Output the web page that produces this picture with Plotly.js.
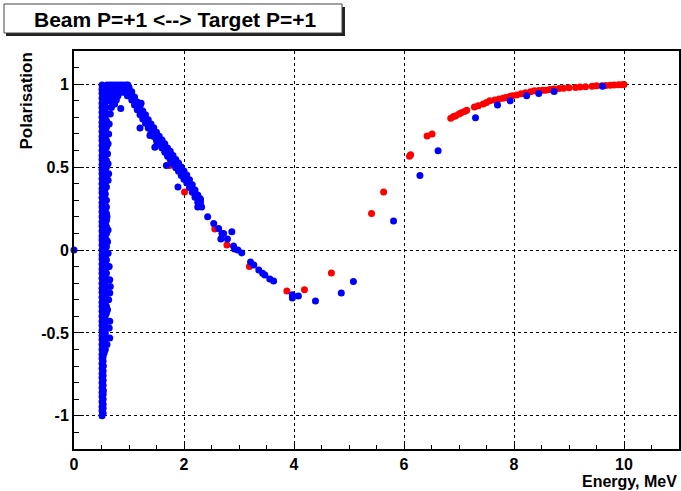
<!DOCTYPE html>
<html><head><meta charset="utf-8">
<script src="https://cdn.plot.ly/plotly-3.0.1.min.js"></script>
<style>html,body{margin:0;padding:0;background:#fff;} #chart{width:681px;height:491px;}</style>
</head><body><div id="chart"></div>
<script>
// ---------- data (Energy in MeV, Polarisation) ----------
// dense vertical band near threshold (blue), one array per column
const bandColumnsE = [0.51, 0.53, 0.55, 0.57, 0.59];
const bandColumn1P = [-1.0,-0.97,-0.945,-0.915,-0.885,-0.86,-0.83,-0.8,-0.77,-0.745,-0.715,-0.685,-0.655,-0.63,-0.6,-0.57,-0.54,-0.515,-0.485,-0.455,-0.43,-0.4,-0.37,-0.34,-0.315,-0.285,-0.255,-0.23,-0.2,-0.17,-0.14,-0.115,-0.085,-0.055,-0.03,0.0,0.03,0.06,0.085,0.115,0.145,0.17,0.2,0.23,0.26,0.285,0.315,0.345,0.37,0.4,0.43,0.46,0.485,0.515,0.545,0.57,0.6,0.63,0.66,0.685,0.715,0.745,0.77,0.8,0.83,0.86,0.885,0.915,0.945,0.97,0.995];
const bandColumn2P = [-0.985,-0.955,-0.93,-0.9,-0.87,-0.845,-0.815,-0.785,-0.757,-0.73,-0.7,-0.67,-0.642,-0.615,-0.585,-0.555,-0.528,-0.5,-0.47,-0.442,-0.415,-0.385,-0.355,-0.328,-0.3,-0.27,-0.242,-0.215,-0.185,-0.155,-0.128,-0.1,-0.07,-0.042,-0.015,0.015,0.045,0.072,0.1,0.13,0.158,0.185,0.215,0.245,0.272,0.3,0.33,0.358,0.385,0.415,0.445,0.472,0.5,0.53,0.558,0.585,0.615,0.645,0.672,0.7,0.73,0.758,0.785,0.815,0.845,0.872,0.9,0.93,0.958,0.985];
const bandColumn3P = [-0.62,-0.585,-0.55,-0.52,-0.485,-0.45,-0.415,-0.38,-0.345,-0.31,-0.275,-0.24,-0.205,-0.17,-0.135,-0.1,-0.065,-0.03,0.005,0.04,0.075,0.11,0.145,0.18,0.215,0.25,0.285,0.32,0.355,0.39,0.425,0.46,0.495,0.53,0.565,0.6,0.635,0.67,0.705,0.74,0.775,0.81,0.845,0.88,0.915,0.95,0.985];
const bandColumn4P = [-0.6,-0.567,-0.535,-0.5,-0.467,-0.432,-0.397,-0.362,-0.327,-0.292,-0.257,-0.222,-0.187,-0.152,-0.117,-0.082,-0.047,-0.012,0.022,0.057,0.092,0.127,0.162,0.197,0.232,0.267,0.302,0.337,0.372,0.407,0.442,0.477,0.512,0.547,0.582,0.617,0.652,0.687,0.722,0.757,0.792,0.827,0.862,0.897,0.932,0.967];
const bandColumn5P = [-0.38,-0.34,-0.3,-0.26,-0.22,-0.18,-0.14,-0.1,-0.06,-0.02,0.02,0.06,0.1,0.14,0.18,0.22,0.26,0.3,0.38,0.42,0.46,0.5,0.54,0.58,0.62,0.66,0.7,0.74,0.78,0.82,0.86,0.9,0.94,0.98];
// ragged right edge of the band (blue)
const bandEdgeE = [0.64,0.66,0.68,0.66,0.64,0.63,0.62,0.61,0.62,0.63,0.62,0.6,0.62,0.61,0.62,0.64,0.65,0.66,0.65,0.63,0.61,0.65,0.64,0.65,0.6,0.53,0.53];
const bandEdgeP = [0.95,0.9,0.86,0.82,0.76,0.7,0.64,0.58,0.52,0.46,0.42,0.2,0.12,0.05,-0.02,-0.1,-0.18,-0.22,-0.26,-0.3,-0.36,-0.43,-0.47,-0.53,-0.57,-0.7,-0.85];
// flat top of the hump (blue)
const humpTopE = [0.6,0.65,0.7,0.75,0.8,0.85,0.9,0.95,0.98, 0.62,0.67,0.72,0.77,0.82,0.87,0.92,0.96,0.99, 0.6,0.65,0.7,0.75,0.8,0.85,0.9,0.95,1.0, 0.62,0.67,0.72,0.77,0.82,0.87,0.92,0.97,1.0, 0.64,0.7,0.75,0.8,0.97,1.02, 0.66,0.72,0.77, 0.7,0.74];
const humpTopP = [0.995,0.995,0.995,0.995,0.995,0.995,0.995,0.995,0.995, 0.982,0.982,0.982,0.982,0.982,0.982,0.982,0.982,0.982, 0.968,0.968,0.968,0.968,0.968,0.968,0.968,0.968,0.968, 0.952,0.952,0.952,0.952,0.952,0.952,0.952,0.952,0.952, 0.93,0.93,0.93,0.93,0.93,0.93, 0.905,0.905,0.905, 0.88,0.88];
// descending branch (blue): upper edge, middle and lower edge
const branchE     = [1.00,1.05,1.10,1.15,1.20,1.25,1.30,1.35,1.40,1.45,1.50,1.55,1.60,1.65,1.70,1.75,1.80,1.85,1.90,1.95,2.00,2.05,2.10,2.15,2.20,2.25,2.30];
const branchHighP = [0.98,0.955,0.922,0.892,0.864,0.838,0.815,0.786,0.76,0.737,0.71,0.686,0.664,0.64,0.615,0.595,0.57,0.545,0.524,0.5,0.476,0.452,0.424,0.394,0.362,0.332,0.305];
const branchMidP  = [0.955,0.93,0.9,0.87,0.84,0.815,0.79,0.76,0.735,0.71,0.685,0.66,0.64,0.615,0.59,0.57,0.545,0.52,0.5,0.475,0.45,0.43,0.4,0.37,0.34,0.31,0.285];
const branchLowP  = [0.93,0.905,0.874,0.845,0.815,0.79,0.764,0.736,0.71,0.685,0.66,0.636,0.615,0.59,0.566,0.545,0.52,0.496,0.475,0.45,0.426,0.406,0.377,0.348,0.318,0.288,0.265];
// isolated blue points
const blueScatterE = [0.0,0.85,1.20,1.22,1.38,1.47,1.50,1.68,1.89,2.25,2.29,2.32,2.43,2.54,2.63,2.69,2.72,2.67,2.79,2.87,2.90,2.92,2.98,3.05,3.21,3.27,3.36,3.43,3.47,3.56,3.63,3.97,3.97,4.08,4.39,4.86,5.08,5.81,6.29,6.62,7.30,7.70,7.93,8.23,8.45,8.73,9.61];
const blueScatterP = [0.0,0.853,0.735,0.885,0.69,0.62,0.63,0.51,0.38,0.26,0.31,0.26,0.20,0.16,0.13,0.10,0.10,0.066,0.066,0.11,0.024,0.006,0.0,-0.018,-0.072,-0.09,-0.12,-0.14,-0.15,-0.175,-0.187,-0.27,-0.29,-0.277,-0.307,-0.26,-0.19,0.175,0.45,0.598,0.797,0.875,0.90,0.93,0.944,0.956,0.988];
// red series
const redE = [1.74,2.01,2.56,2.78,3.19,3.87,4.19,4.68,5.41,5.63,6.10,6.12,6.42,6.51,6.85,6.90,6.94,7.00,7.04,7.10,7.14,7.28,7.35,7.44,7.50,7.56,7.65,7.73,7.80,7.85,7.92,7.97,8.05,8.13,8.21,8.30,8.37,8.45,8.52,8.58,8.65,8.72,8.82,8.90,9.00,9.12,9.20,9.30,9.42,9.50,9.60,9.67,9.75,9.82,9.90,9.96,10.0];
const redP = [0.51,0.35,0.127,0.03,-0.10,-0.247,-0.24,-0.139,0.22,0.35,0.566,0.575,0.687,0.70,0.795,0.805,0.81,0.82,0.827,0.835,0.843,0.863,0.87,0.88,0.89,0.90,0.905,0.91,0.915,0.92,0.925,0.93,0.935,0.942,0.948,0.955,0.96,0.962,0.963,0.964,0.968,0.971,0.974,0.976,0.978,0.98,0.983,0.985,0.988,0.99,0.991,0.992,0.994,0.995,0.996,0.997,0.998];
// axis ticks
const xTickValues = [0,2,4,6,8,10];
const xTickLabels = ['0','2','4','6','8','10'];
const yTickValues = [-1,-0.5,0,0.5,1];
const yTickLabels = ['-1','-0.5','0','0.5','1'];

// ---------- assemble blue series ----------
const blueE = [], blueP = [];
[bandColumn1P, bandColumn2P, bandColumn3P, bandColumn4P, bandColumn5P].forEach((col, i) => {
  col.forEach(p => { blueE.push(bandColumnsE[i]); blueP.push(p); });
});
bandEdgeE.forEach((e, i) => { blueE.push(e); blueP.push(bandEdgeP[i]); });
humpTopE.forEach((e, i) => { blueE.push(e); blueP.push(humpTopP[i]); });
branchE.forEach((e, i) => {
  blueE.push(e); blueP.push(branchHighP[i]);
  blueE.push(e); blueP.push(branchMidP[i]);
  blueE.push(e); blueP.push(branchLowP[i]);
});
blueScatterE.forEach((e, i) => { blueE.push(e); blueP.push(blueScatterP[i]); });

const FONT = 'Liberation Sans, Arial, Helvetica, sans-serif';
const traces = [
  {x: redE, y: redP, type: 'scatter', mode: 'markers', cliponaxis: false,
   marker: {color: '#ff0000', size: 7, line: {width: 0}}},
  {x: blueE, y: blueP, type: 'scatter', mode: 'markers', cliponaxis: false,
   marker: {color: '#0000ff', size: 7, line: {width: 0}}}
];

const axisCommon = {
  ticks: 'inside', tickcolor: '#000', tickwidth: 1,
  showgrid: true, gridcolor: '#000', gridwidth: 1, griddash: '3px,3px',
  zeroline: false, showline: true, linecolor: '#000', linewidth: 2, mirror: true,
  tickfont: {family: FONT, size: 16, weight: 'bold', color: '#000'},
  tickmode: 'array', fixedrange: true
};

const layout = {
  width: 681, height: 491,
  margin: {l: 74, r: 2, t: 51, b: 42, pad: 0},
  paper_bgcolor: '#fff', plot_bgcolor: '#fff',
  showlegend: false,
  xaxis: Object.assign({}, axisCommon, {
    range: [0, 11], tickvals: xTickValues, ticktext: xTickLabels, ticklen: 8,
    minor: {dtick: 0.5, tick0: 0, ticks: 'inside', ticklen: 4, tickcolor: '#000', tickwidth: 1, showgrid: false}
  }),
  yaxis: Object.assign({}, axisCommon, {
    range: [-1.2, 1.2], tickvals: yTickValues, ticktext: yTickLabels, ticklen: 10,
    minor: {dtick: 0.1, tick0: 0, ticks: 'inside', ticklen: 5, tickcolor: '#000', tickwidth: 1, showgrid: false}
  }),
  shapes: [
    {type: 'rect', xref: 'paper', yref: 'paper', x0: -0.1124, x1: 0.4479, y0: 1.0377, y1: 1.1106,
     fillcolor: '#222', line: {width: 0}},
    {type: 'rect', xref: 'paper', yref: 'paper', x0: -0.1157, x1: 0.4430, y0: 1.0452, y1: 1.1181,
     fillcolor: '#fff', line: {color: '#444', width: 1}}
  ],
  annotations: [
    {text: 'Beam P=+1 &lt;--&gt; Target P=+1', xref: 'paper', yref: 'paper', x: 0.1669, y: 1.0804,
     xanchor: 'center', yanchor: 'middle', showarrow: false,
     font: {family: FONT, size: 21, weight: 'bold', color: '#000'}},
    {text: 'Polarisation', xref: 'paper', yref: 'paper', x: -0.0777, y: 1.0025, textangle: -90,
     xanchor: 'center', yanchor: 'top', showarrow: false,
     font: {family: FONT, size: 17, weight: 'bold', color: '#000'}},
    {text: 'Energy, MeV', xref: 'paper', yref: 'paper', x: 1.0, y: -0.082,
     xanchor: 'right', yanchor: 'middle', showarrow: false,
     font: {family: FONT, size: 16, weight: 'bold', color: '#000'}}
  ]
};

Plotly.newPlot('chart', traces, layout, {staticPlot: true, displayModeBar: false});
</script></body></html>
